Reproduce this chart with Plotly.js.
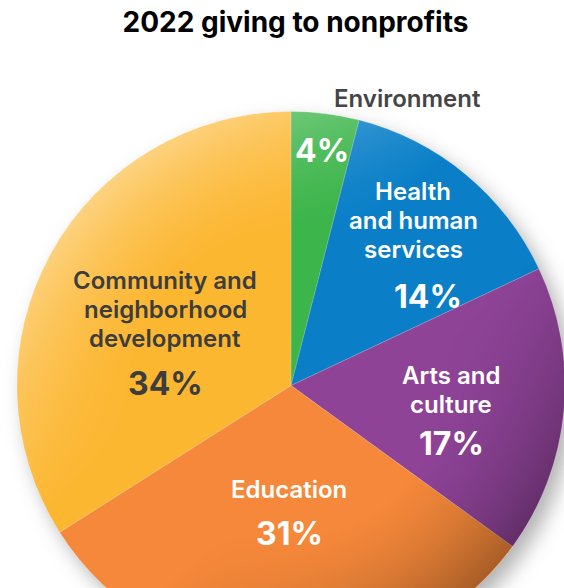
<!DOCTYPE html>
<html>
<head>
<meta charset="utf-8">
<script src="https://cdn.plot.ly/plotly-3.0.1.min.js"></script>
<style>
html,body{margin:0;padding:0;overflow:hidden;background:#fff;width:564px;height:588px;}
#chart{position:absolute;left:0;top:0;}
</style>
</head>
<body>
<div id="chart"></div>
<script>
// ---- data ----
var categories = ["Environment", "Health and human services", "Arts and culture", "Education", "Community and neighborhood development"];
var shares = [4, 14, 17, 31, 34];
var labelLines = [["Environment"], ["Health", "and human", "services"], ["Arts and", "culture"], ["Education"], ["Community and", "neighborhood", "development"]];
var sliceColors = ["#3cb54a", "#0a7fc8", "#8e4397", "#f5883a", "#fcb731"];
var labelColors = ["#454545", "#ffffff", "#ffffff", "#ffffff", "#3d3d3d"];
var pctColors = ["#ffffff", "#ffffff", "#ffffff", "#ffffff", "#3d3d3d"];
var chartTitle = "2022 giving to nonprofits";

// ---- layout helpers (pixel -> paper) ----
var W = 566, H = 660, ML = 17, MR = 1, MT = 111, MB = 0;
var PW = W - ML - MR, PH = H - MT - MB;
function px(x){ return (x - ML) / PW; }
function py(y){ return 1 - (y - MT) / PH; }

// label placement (pixel centres of label blocks)
var namePos = [[407, 98], [413, 220], [451, 390], [289, 489], [165, 309]];
var pctPos  = [[322, 150], [428, 296], [451, 443], [289, 533], [165, 383]];
var LINE = 29;
var FONT = "Inter, Roboto, 'Noto Sans', sans-serif";

var annotations = [];
for (var i = 0; i < categories.length; i++) {
  var lines = labelLines[i], n = lines.length;
  for (var k = 0; k < n; k++) {
    annotations.push({
      xref: "paper", yref: "paper",
      x: px(namePos[i][0]), y: py(namePos[i][1] + LINE * (k - (n - 1) / 2)),
      xanchor: "center", yanchor: "middle", showarrow: false, align: "center",
      text: lines[k],
      font: {family: FONT, size: 24, color: labelColors[i], weight: 600}
    });
  }
  annotations.push({
    xref: "paper", yref: "paper", x: px(pctPos[i][0]), y: py(pctPos[i][1]),
    xanchor: "center", yanchor: "middle", showarrow: false,
    text: shares[i] + "%",
    font: {family: FONT, size: 32, color: pctColors[i], weight: 700}
  });
}

// subtle spherical lighting overlay (decorative)
var shade = '<svg xmlns="http://www.w3.org/2000/svg" viewBox="0 0 100 100">' +
  '<defs>' +
  '<radialGradient id="rim" cx="50" cy="50" r="50" gradientUnits="userSpaceOnUse">' +
  '<stop offset="0.55" stop-color="#fff" stop-opacity="0"/>' +
  '<stop offset="1" stop-color="#fff" stop-opacity="1"/></radialGradient>' +
  '<mask id="m"><circle cx="50" cy="50" r="50" fill="url(#rim)"/></mask>' +
  '<linearGradient id="lg" x1="0.1" y1="0.05" x2="0.9" y2="0.95">' +
  '<stop offset="0" stop-color="#fff" stop-opacity="0.5"/>' +
  '<stop offset="0.4" stop-color="#fff" stop-opacity="0"/>' +
  '<stop offset="0.6" stop-color="#000" stop-opacity="0"/>' +
  '<stop offset="1" stop-color="#000" stop-opacity="0.4"/></linearGradient>' +
  '</defs>' +
  '<circle cx="50" cy="50" r="50" fill="url(#lg)" mask="url(#m)"/></svg>';

var trace = {
  type: "pie",
  labels: categories,
  values: shares,
  sort: false,
  direction: "clockwise",
  rotation: 0,
  textinfo: "none",
  hoverinfo: "label+percent",
  marker: {colors: sliceColors, line: {color: "rgba(255,255,255,0.35)", width: 0.5}},
  domain: {x: [0, 1], y: [0, 1]},
  showlegend: false
};

var layout = {
  width: W, height: H,
  margin: {l: ML, r: MR, t: MT, b: MB, pad: 0},
  paper_bgcolor: "#ffffff",
  plot_bgcolor: "#ffffff",
  showlegend: false,
  title: {
    text: chartTitle,
    x: 295.5 / W, xanchor: "center",
    y: 1 - 22 / H, yanchor: "middle", yref: "container",
    font: {family: FONT, size: 28, color: "#000000", weight: 700}
  },
  images: [{
    source: "data:image/svg+xml;charset=utf-8," + encodeURIComponent(shade),
    xref: "paper", yref: "paper",
    x: px(ML), y: py(MT), sizex: PW / PW, sizey: PW / PH,
    xanchor: "left", yanchor: "top", sizing: "stretch", layer: "above"
  }],
  annotations: annotations
};

Plotly.newPlot("chart", [trace], layout, {staticPlot: true, displayModeBar: false}).then(function(){
  var pl = document.querySelector("#chart .pielayer");
  if (pl) pl.style.filter = "drop-shadow(8px 10px 10px rgba(0,0,0,0.3))";
});
</script>
</body>
</html>
